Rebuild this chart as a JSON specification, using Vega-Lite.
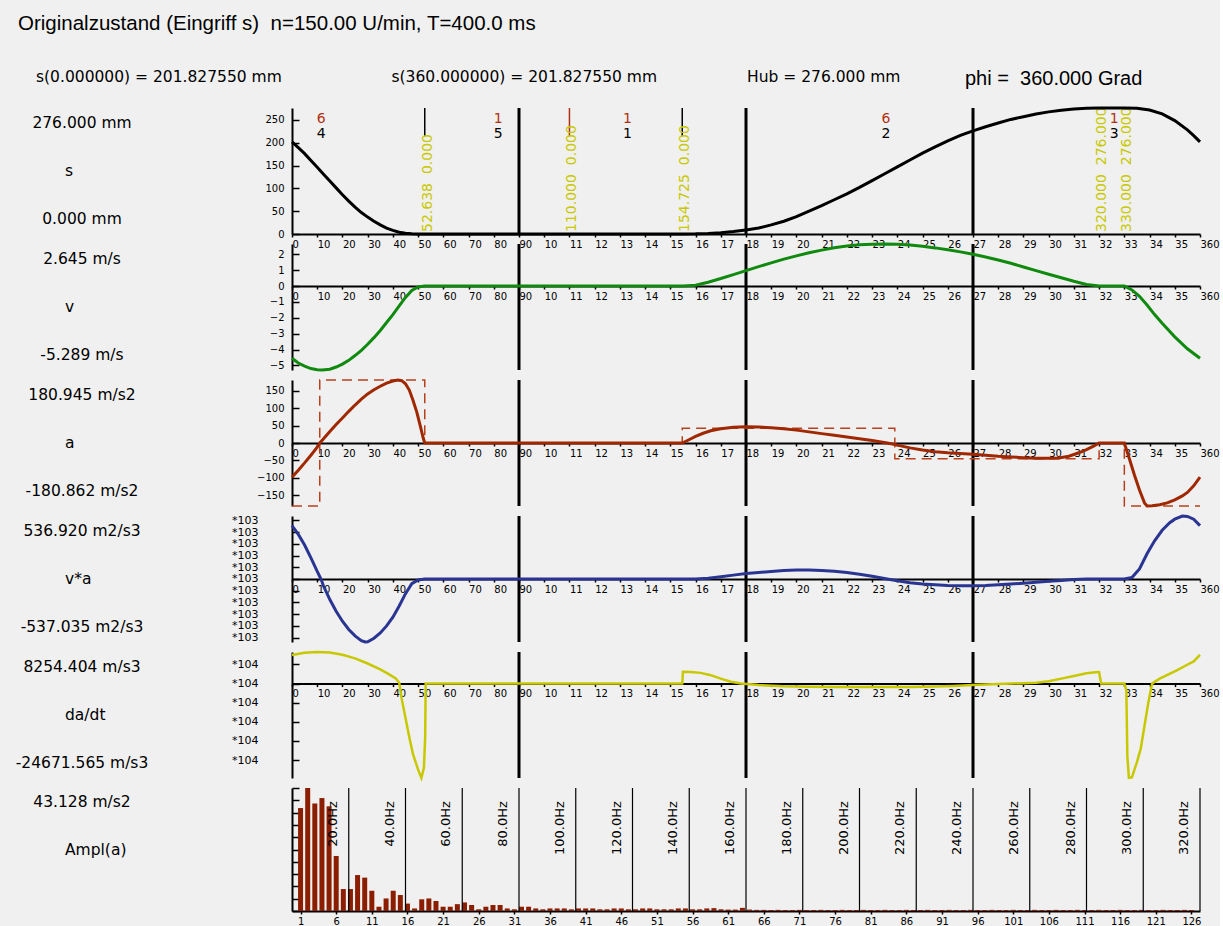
{
"$schema": "https://vega.github.io/schema/vega-lite/v6.json",
"background": "#f0f0f0",
"padding": {"left": 0, "top": 13, "right": 0, "bottom": 0},
"config": {
  "view": {"stroke": null},
  "font": "DejaVu Sans",
  "axis": {"domainColor": "black", "tickColor": "black", "labelColor": "black", "labelFont": "DejaVu Sans", "labelFontSize": 10, "grid": false, "domainWidth": 2, "tickWidth": 1.5, "labelOverlap": false, "labelBound": false, "labelSeparation": -100},
  "text": {"font": "DejaVu Sans", "fontSize": 15.5, "color": "black"}
},
"title": {"text": "Originalzustand (Eingriff s)\u00a0 n=150.00 U/min, T=400.0 ms", "anchor": "start", "font": "Liberation Sans", "fontSize": 20.5, "fontWeight": "normal", "color": "black", "dx": 18, "offset": 23},
"datasets": {
  "header": [
    {"item": "s0", "t": "s(0.000000) = 201.827550 mm"},
    {"item": "s360", "t": "s(360.000000) = 201.827550 mm"},
    {"item": "hub", "t": "Hub = 276.000 mm"},
    {"item": "phi", "t": "phi =\u00a0 360.000 Grad"}
  ],
  "quarters": [{"phi": 90}, {"phi": 180}, {"phi": 270}],
  "markers": [
    {"phi": 52.638, "lab": "52.638\u00a0 0.000"},
    {"phi": 110, "lab": "110.000\u00a0 0.000"},
    {"phi": 154.725, "lab": "154.725\u00a0 0.000"},
    {"phi": 320, "lab": "320.000\u00a0 276.000"},
    {"phi": 330, "lab": "330.000\u00a0 276.000"}
  ],
  "segs": [
    {"phi": 11.6, "law": "6", "seg": "4"},
    {"phi": 81.8, "law": "1", "seg": "5"},
    {"phi": 133, "law": "1", "seg": "1"},
    {"phi": 235.5, "law": "6", "seg": "2"},
    {"phi": 326, "law": "1", "seg": "3"}
  ],
  "s": [
    {"phi": 0, "val": 201.8}, {"phi": 2.5, "val": 189}, {"phi": 5, "val": 176}, {"phi": 7.5, "val": 161}, {"phi": 10, "val": 146},
    {"phi": 12.5, "val": 131}, {"phi": 15, "val": 116}, {"phi": 17.5, "val": 101}, {"phi": 20, "val": 86}, {"phi": 22.5, "val": 72},
    {"phi": 25, "val": 59}, {"phi": 27.5, "val": 47}, {"phi": 30, "val": 37}, {"phi": 32.5, "val": 28}, {"phi": 35, "val": 20},
    {"phi": 37.5, "val": 13}, {"phi": 40, "val": 8}, {"phi": 42.5, "val": 4}, {"phi": 45, "val": 1.8}, {"phi": 47.5, "val": 0.6},
    {"phi": 50, "val": 0.1}, {"phi": 52.638, "val": 0}, {"phi": 155, "val": 0}, {"phi": 160, "val": 0.3}, {"phi": 165, "val": 1.3},
    {"phi": 170, "val": 3}, {"phi": 175, "val": 5.5}, {"phi": 180, "val": 8.8}, {"phi": 185, "val": 13}, {"phi": 190, "val": 20},
    {"phi": 195, "val": 28}, {"phi": 200, "val": 38}, {"phi": 205, "val": 50}, {"phi": 210, "val": 62}, {"phi": 215, "val": 75},
    {"phi": 220, "val": 88}, {"phi": 225, "val": 102}, {"phi": 230, "val": 117}, {"phi": 235, "val": 132}, {"phi": 240, "val": 147},
    {"phi": 245, "val": 162}, {"phi": 250, "val": 177}, {"phi": 255, "val": 191}, {"phi": 260, "val": 204}, {"phi": 265, "val": 216},
    {"phi": 270, "val": 226}, {"phi": 275, "val": 235}, {"phi": 280, "val": 243}, {"phi": 285, "val": 251}, {"phi": 290, "val": 257},
    {"phi": 295, "val": 263}, {"phi": 300, "val": 267.5}, {"phi": 305, "val": 271}, {"phi": 310, "val": 274}, {"phi": 315, "val": 275.5},
    {"phi": 320, "val": 276}, {"phi": 330, "val": 276}, {"phi": 335, "val": 275.3}, {"phi": 340, "val": 271.5}, {"phi": 345, "val": 263},
    {"phi": 350, "val": 248.5}, {"phi": 355, "val": 228}, {"phi": 357.5, "val": 215.5}, {"phi": 360, "val": 201.8}
  ],
  "v": [
    {"phi": 0, "val": -4.55}, {"phi": 2.5, "val": -4.85}, {"phi": 5, "val": -5.05}, {"phi": 7.5, "val": -5.2}, {"phi": 10, "val": -5.27},
    {"phi": 12, "val": -5.289}, {"phi": 15, "val": -5.24}, {"phi": 17.5, "val": -5.1}, {"phi": 20, "val": -4.92}, {"phi": 22.5, "val": -4.68},
    {"phi": 25, "val": -4.38}, {"phi": 27.5, "val": -4.05}, {"phi": 30, "val": -3.67}, {"phi": 32.5, "val": -3.25}, {"phi": 35, "val": -2.8},
    {"phi": 37.5, "val": -2.3}, {"phi": 40, "val": -1.8}, {"phi": 42.5, "val": -1.25}, {"phi": 45, "val": -0.72}, {"phi": 47.5, "val": -0.28},
    {"phi": 50, "val": -0.06}, {"phi": 52.638, "val": 0}, {"phi": 155, "val": 0}, {"phi": 160, "val": 0.05}, {"phi": 165, "val": 0.24},
    {"phi": 170, "val": 0.47}, {"phi": 175, "val": 0.72}, {"phi": 180, "val": 0.97}, {"phi": 185, "val": 1.22}, {"phi": 190, "val": 1.46},
    {"phi": 195, "val": 1.69}, {"phi": 200, "val": 1.9}, {"phi": 205, "val": 2.09}, {"phi": 210, "val": 2.26}, {"phi": 215, "val": 2.41},
    {"phi": 220, "val": 2.52}, {"phi": 225, "val": 2.6}, {"phi": 230, "val": 2.635}, {"phi": 235, "val": 2.645}, {"phi": 240, "val": 2.63},
    {"phi": 245, "val": 2.58}, {"phi": 250, "val": 2.5}, {"phi": 255, "val": 2.4}, {"phi": 260, "val": 2.28}, {"phi": 265, "val": 2.15},
    {"phi": 270, "val": 2.0}, {"phi": 275, "val": 1.83}, {"phi": 280, "val": 1.64}, {"phi": 285, "val": 1.43}, {"phi": 290, "val": 1.2},
    {"phi": 295, "val": 0.97}, {"phi": 300, "val": 0.74}, {"phi": 305, "val": 0.52}, {"phi": 310, "val": 0.3}, {"phi": 315, "val": 0.1},
    {"phi": 320, "val": 0}, {"phi": 330, "val": 0}, {"phi": 333, "val": -0.25}, {"phi": 336, "val": -0.65}, {"phi": 339, "val": -1.2},
    {"phi": 342, "val": -1.8}, {"phi": 345, "val": -2.35}, {"phi": 350, "val": -3.2}, {"phi": 355, "val": -3.95}, {"phi": 360, "val": -4.55}
  ],
  "a": [
    {"phi": 0, "val": -98}, {"phi": 2.5, "val": -78}, {"phi": 5, "val": -57}, {"phi": 7.5, "val": -35}, {"phi": 10, "val": -12},
    {"phi": 11, "val": 0}, {"phi": 12.5, "val": 12}, {"phi": 15, "val": 33}, {"phi": 17.5, "val": 53}, {"phi": 20, "val": 72},
    {"phi": 22.5, "val": 91}, {"phi": 25, "val": 109}, {"phi": 27.5, "val": 126}, {"phi": 30, "val": 141}, {"phi": 32.5, "val": 153},
    {"phi": 35, "val": 163}, {"phi": 37.5, "val": 172}, {"phi": 40, "val": 178}, {"phi": 42, "val": 180.945}, {"phi": 43.5, "val": 179},
    {"phi": 45, "val": 170}, {"phi": 46.5, "val": 152}, {"phi": 48, "val": 122}, {"phi": 49.5, "val": 88}, {"phi": 51, "val": 45},
    {"phi": 52, "val": 15}, {"phi": 52.638, "val": 0}, {"phi": 154.725, "val": 0}, {"phi": 157, "val": 8}, {"phi": 160, "val": 19},
    {"phi": 163, "val": 28}, {"phi": 166, "val": 35}, {"phi": 170, "val": 41}, {"phi": 175, "val": 45.5}, {"phi": 180, "val": 47},
    {"phi": 185, "val": 46}, {"phi": 190, "val": 44}, {"phi": 195, "val": 41}, {"phi": 200, "val": 37}, {"phi": 205, "val": 32},
    {"phi": 210, "val": 27}, {"phi": 215, "val": 22}, {"phi": 220, "val": 17}, {"phi": 225, "val": 12}, {"phi": 230, "val": 7},
    {"phi": 236, "val": 0}, {"phi": 240, "val": -6}, {"phi": 245, "val": -14}, {"phi": 250, "val": -20}, {"phi": 255, "val": -25},
    {"phi": 260, "val": -28}, {"phi": 265, "val": -30}, {"phi": 270, "val": -32}, {"phi": 275, "val": -35}, {"phi": 280, "val": -38},
    {"phi": 285, "val": -40}, {"phi": 290, "val": -42}, {"phi": 295, "val": -43.5}, {"phi": 300, "val": -44}, {"phi": 304, "val": -43},
    {"phi": 308, "val": -38}, {"phi": 312, "val": -28}, {"phi": 315, "val": -19}, {"phi": 318, "val": -8}, {"phi": 320, "val": 0},
    {"phi": 330, "val": 0}, {"phi": 332, "val": -45}, {"phi": 334, "val": -92}, {"phi": 336, "val": -135}, {"phi": 338, "val": -172},
    {"phi": 339, "val": -180.862}, {"phi": 341, "val": -180}, {"phi": 344, "val": -177}, {"phi": 347, "val": -172}, {"phi": 350, "val": -163},
    {"phi": 353, "val": -152}, {"phi": 355, "val": -142}, {"phi": 357.5, "val": -123}, {"phi": 360, "val": -98}
  ],
  "astep": [
    {"phi": 0, "val": -180.862}, {"phi": 11, "val": 180.945}, {"phi": 52.638, "val": 0}, {"phi": 154.725, "val": 42.6},
    {"phi": 239, "val": -45}, {"phi": 320, "val": 0}, {"phi": 330, "val": -180.862}, {"phi": 360, "val": -180.862}
  ],
  "va": [
    {"phi": 0, "val": 455}, {"phi": 2.5, "val": 380}, {"phi": 5, "val": 290}, {"phi": 7.5, "val": 180}, {"phi": 10, "val": 65},
    {"phi": 11.5, "val": 0}, {"phi": 12.5, "val": -60}, {"phi": 15, "val": -175}, {"phi": 17.5, "val": -275}, {"phi": 20, "val": -360},
    {"phi": 22.5, "val": -430}, {"phi": 25, "val": -485}, {"phi": 27.5, "val": -525}, {"phi": 29, "val": -537.035}, {"phi": 30, "val": -535},
    {"phi": 32.5, "val": -505}, {"phi": 35, "val": -460}, {"phi": 37.5, "val": -400}, {"phi": 40, "val": -325}, {"phi": 42.5, "val": -230},
    {"phi": 45, "val": -125}, {"phi": 47.5, "val": -40}, {"phi": 50, "val": -8}, {"phi": 52.638, "val": 0}, {"phi": 155, "val": 0},
    {"phi": 160, "val": 1}, {"phi": 165, "val": 7}, {"phi": 170, "val": 19}, {"phi": 175, "val": 33}, {"phi": 180, "val": 46},
    {"phi": 185, "val": 56}, {"phi": 190, "val": 64}, {"phi": 195, "val": 72}, {"phi": 200, "val": 77}, {"phi": 205, "val": 76},
    {"phi": 210, "val": 72}, {"phi": 215, "val": 65}, {"phi": 220, "val": 55}, {"phi": 225, "val": 40}, {"phi": 230, "val": 24},
    {"phi": 236, "val": 0}, {"phi": 240, "val": -15}, {"phi": 245, "val": -32}, {"phi": 250, "val": -43}, {"phi": 255, "val": -50},
    {"phi": 260, "val": -55}, {"phi": 265, "val": -57}, {"phi": 270, "val": -57}, {"phi": 275, "val": -55}, {"phi": 280, "val": -50},
    {"phi": 285, "val": -43}, {"phi": 290, "val": -36}, {"phi": 295, "val": -28}, {"phi": 300, "val": -20}, {"phi": 305, "val": -12},
    {"phi": 310, "val": -5}, {"phi": 315, "val": -1}, {"phi": 320, "val": 0}, {"phi": 330, "val": 0}, {"phi": 333, "val": 12},
    {"phi": 336, "val": 85}, {"phi": 339, "val": 215}, {"phi": 342, "val": 325}, {"phi": 345, "val": 415}, {"phi": 348, "val": 480},
    {"phi": 350, "val": 510}, {"phi": 353, "val": 536.92}, {"phi": 355, "val": 533}, {"phi": 357.5, "val": 510}, {"phi": 360, "val": 455}
  ],
  "j": [
    {"phi": 0, "val": 7490}, {"phi": 5, "val": 8050}, {"phi": 10, "val": 8254.404}, {"phi": 15, "val": 8100}, {"phi": 20, "val": 7550},
    {"phi": 25, "val": 6600}, {"phi": 30, "val": 5250}, {"phi": 35, "val": 3700}, {"phi": 38, "val": 2600}, {"phi": 41, "val": 1400},
    {"phi": 42.5, "val": 300}, {"phi": 43.5, "val": -4000}, {"phi": 45, "val": -9000}, {"phi": 46.5, "val": -14000}, {"phi": 48, "val": -18500},
    {"phi": 50, "val": -22500}, {"phi": 51.3, "val": -24671.565}, {"phi": 52.3, "val": -22000}, {"phi": 52.8, "val": -14000}, {"phi": 53, "val": 0},
    {"phi": 154.725, "val": 0}, {"phi": 155, "val": 3100}, {"phi": 158, "val": 3050}, {"phi": 162, "val": 2800}, {"phi": 166, "val": 2200},
    {"phi": 170, "val": 1300}, {"phi": 174, "val": 500}, {"phi": 178, "val": 0}, {"phi": 185, "val": -400}, {"phi": 195, "val": -700},
    {"phi": 205, "val": -800}, {"phi": 215, "val": -900}, {"phi": 230, "val": -900}, {"phi": 245, "val": -900}, {"phi": 255, "val": -750},
    {"phi": 262, "val": -600}, {"phi": 270, "val": -400}, {"phi": 280, "val": -100}, {"phi": 290, "val": 100}, {"phi": 295, "val": 200},
    {"phi": 300, "val": 600}, {"phi": 305, "val": 1300}, {"phi": 310, "val": 2000}, {"phi": 315, "val": 2700}, {"phi": 319.5, "val": 3050},
    {"phi": 320, "val": 3000}, {"phi": 320.8, "val": 0}, {"phi": 330, "val": 0}, {"phi": 330.8, "val": -1700}, {"phi": 331.2, "val": -19000},
    {"phi": 331.8, "val": -24600}, {"phi": 333, "val": -24500}, {"phi": 335, "val": -20500}, {"phi": 336.5, "val": -17000}, {"phi": 338, "val": -11000},
    {"phi": 339.5, "val": -5000}, {"phi": 341, "val": 0}, {"phi": 344, "val": 1300}, {"phi": 347.5, "val": 2400}, {"phi": 351, "val": 3500},
    {"phi": 354, "val": 4600}, {"phi": 357.5, "val": 5800}, {"phi": 360, "val": 7490}
  ],
  "ampl": [
    {"n": 1, "val": 36.1}, {"n": 2, "val": 43.128}, {"n": 3, "val": 37.7}, {"n": 4, "val": 39.6}, {"n": 5, "val": 36.7},
    {"n": 6, "val": 19.3}, {"n": 7, "val": 7.7}, {"n": 8, "val": 7.7}, {"n": 9, "val": 12.6}, {"n": 10, "val": 11.7},
    {"n": 11, "val": 7.1}, {"n": 12, "val": 1.5}, {"n": 13, "val": 4.4}, {"n": 14, "val": 7.1}, {"n": 15, "val": 5.6},
    {"n": 16, "val": 2.6}, {"n": 17, "val": 0.9}, {"n": 18, "val": 4.1}, {"n": 19, "val": 4.4}, {"n": 20, "val": 3.5},
    {"n": 21, "val": 1.5}, {"n": 22, "val": 1.5}, {"n": 23, "val": 2.4}, {"n": 24, "val": 3.0}, {"n": 25, "val": 2.1},
    {"n": 26, "val": 0.6}, {"n": 27, "val": 1.5}, {"n": 28, "val": 2.1}, {"n": 29, "val": 2.1}, {"n": 30, "val": 0.9},
    {"n": 31, "val": 0.6}, {"n": 32, "val": 1.5}, {"n": 33, "val": 1.5}, {"n": 34, "val": 0.9}, {"n": 35, "val": 0.6},
    {"n": 36, "val": 0.9}, {"n": 37, "val": 0.9}, {"n": 38, "val": 0.9}, {"n": 39, "val": 0.6}, {"n": 40, "val": 0.9},
    {"n": 41, "val": 0.9}, {"n": 42, "val": 0.9}, {"n": 43, "val": 0.6}, {"n": 44, "val": 0.6}, {"n": 45, "val": 0.9},
    {"n": 46, "val": 0.9}, {"n": 47, "val": 0.6}, {"n": 48, "val": 0.6}, {"n": 49, "val": 0.9}, {"n": 50, "val": 0.9},
    {"n": 51, "val": 0.6}, {"n": 52, "val": 0.6}, {"n": 53, "val": 0.6}, {"n": 54, "val": 0.9}, {"n": 55, "val": 0.9},
    {"n": 56, "val": 0.6}, {"n": 57, "val": 0.6}, {"n": 58, "val": 0.9}, {"n": 59, "val": 1.0}, {"n": 60, "val": 0.6},
    {"n": 61, "val": 0.5}, {"n": 62, "val": 0.5}, {"n": 63, "val": 1.1}, {"n": 64, "val": 0.5}, {"n": 65, "val": 0.4},
    {"n": 66, "val": 0.4}, {"n": 67, "val": 0.35}, {"n": 68, "val": 0.4}, {"n": 69, "val": 0.35}, {"n": 70, "val": 0.35},
    {"n": 71, "val": 0.4}, {"n": 72, "val": 0.35}, {"n": 73, "val": 0.35}, {"n": 74, "val": 0.4}, {"n": 75, "val": 0.35},
    {"n": 76, "val": 0.35}, {"n": 77, "val": 0.4}, {"n": 78, "val": 0.35}, {"n": 79, "val": 0.35}, {"n": 80, "val": 0.4},
    {"n": 81, "val": 0.35}, {"n": 82, "val": 0.35}, {"n": 83, "val": 0.4}, {"n": 84, "val": 0.35}, {"n": 85, "val": 0.35},
    {"n": 86, "val": 0.4}, {"n": 87, "val": 0.35}, {"n": 88, "val": 0.35}, {"n": 89, "val": 0.4}, {"n": 90, "val": 0.35},
    {"n": 91, "val": 0.35}, {"n": 92, "val": 0.4}, {"n": 93, "val": 0.35}, {"n": 94, "val": 0.35}, {"n": 95, "val": 0.4},
    {"n": 96, "val": 0.35}, {"n": 97, "val": 0.35}, {"n": 98, "val": 0.4}, {"n": 99, "val": 0.35}, {"n": 100, "val": 0.35},
    {"n": 101, "val": 0.4}, {"n": 102, "val": 0.35}, {"n": 103, "val": 0.35}, {"n": 104, "val": 0.4}, {"n": 105, "val": 0.35},
    {"n": 106, "val": 0.35}, {"n": 107, "val": 0.4}, {"n": 108, "val": 0.35}, {"n": 109, "val": 0.35}, {"n": 110, "val": 0.4},
    {"n": 111, "val": 0.35}, {"n": 112, "val": 0.35}, {"n": 113, "val": 0.4}, {"n": 114, "val": 0.35}, {"n": 115, "val": 0.35},
    {"n": 116, "val": 0.4}, {"n": 117, "val": 0.35}, {"n": 118, "val": 0.35}, {"n": 119, "val": 0.4}, {"n": 120, "val": 0.35},
    {"n": 121, "val": 0.35}, {"n": 122, "val": 0.4}, {"n": 123, "val": 0.35}, {"n": 124, "val": 0.35}, {"n": 125, "val": 0.4},
    {"n": 126, "val": 0.35}
  ],
  "hz": [
    {"hz": 20, "lab": "20.0Hz"}, {"hz": 40, "lab": "40.0Hz"}, {"hz": 60, "lab": "60.0Hz"}, {"hz": 80, "lab": "80.0Hz"},
    {"hz": 100, "lab": "100.0Hz"}, {"hz": 120, "lab": "120.0Hz"}, {"hz": 140, "lab": "140.0Hz"}, {"hz": 160, "lab": "160.0Hz"},
    {"hz": 180, "lab": "180.0Hz"}, {"hz": 200, "lab": "200.0Hz"}, {"hz": 220, "lab": "220.0Hz"}, {"hz": 240, "lab": "240.0Hz"},
    {"hz": 260, "lab": "260.0Hz"}, {"hz": 280, "lab": "280.0Hz"}, {"hz": 300, "lab": "300.0Hz"}, {"hz": 320, "lab": "320.0Hz"}
  ]
},
"bounds": "flush",
"spacing": 11,
"vconcat": [
  {
    "width": 1200, "height": 40,
    "data": {"name": "header"},
    "resolve": {"scale": {"x": "independent"}},
    "layer": [
      {"transform": [{"filter": "datum.item !== 'phi'"}],
       "mark": {"type": "text", "align": "left"},
       "encoding": {"x": {"field": "item", "type": "nominal", "scale": {"domain": ["s0", "s360", "hub"], "range": [36, 747], "padding": 0}, "axis": null}, "text": {"field": "t"}}},
      {"transform": [{"filter": "datum.item === 'phi'"}],
       "mark": {"type": "text", "align": "left", "font": "Liberation Sans", "fontSize": 20, "dy": 2},
       "encoding": {"x": {"field": "item", "type": "nominal", "scale": {"domain": ["phi"], "range": [965, 965], "padding": 0}, "axis": null}, "text": {"field": "t"}}}
    ]
  },
  {
    "columns": 2,
    "bounds": "flush",
    "spacing": {"row": 10, "column": 128},
    "resolve": {"scale": {"x": "independent", "y": "independent"}},
    "concat": [
      {"width": 164, "height": 126, "layer": [
        {"data": {"values": [{"slot": "top", "t": "276.000 mm"}, {"slot": "bottom", "t": "0.000 mm"}]}, "mark": {"type": "text"}, "encoding": {"y": {"field": "slot", "type": "nominal", "scale": {"domain": ["top", "mid", "bottom"], "padding": 0.3}, "axis": null}, "text": {"field": "t"}}},
        {"data": {"values": [{"slot": "mid", "t": "s"}]}, "mark": {"type": "text", "align": "left", "dx": -17}, "encoding": {"y": {"field": "slot", "type": "nominal", "axis": null}, "text": {"field": "t"}}}
      ]},
      {"width": 908, "height": 126,
       "encoding": {"x": {"field": "phi", "type": "quantitative", "scale": {"domain": [0, 360], "nice": false, "zero": false},
           "axis": {"title": null, "values": [0,10,20,30,40,50,60,70,80,90,100,110,120,130,140,150,160,170,180,190,200,210,220,230,240,250,260,270,280,290,300,310,320,330,340,350,360], "labelExpr": "datum.value == 360 ? '360' : substring(datum.label, 0, 2)", "labelAlign": "left", "labelPadding": 2, "tickSize": 3, "labelOverlap": false, "labelFlush": false}}},
       "layer": [
        {"data": {"name": "quarters"}, "mark": {"type": "rule", "strokeWidth": 3, "color": "black"}},
        {"data": {"name": "markers"}, "transform": [{"filter": "datum.phi < 300"}], "mark": {"type": "rule", "strokeWidth": 1.5},
         "encoding": {"y": {"datum": 214, "axis": {"title": null, "values": [0, 50, 100, 150, 200, 250], "tickSize": -7, "labelPadding": 15, "labelOverlap": false}}, "y2": {"datum": 276}, "color": {"condition": {"test": "datum.phi === 110", "value": "#b03010"}, "value": "black"}}},
        {"data": {"name": "markers"}, "mark": {"type": "text", "angle": 270, "align": "left", "baseline": "middle", "dx": 2, "dy": 3, "color": "#c8c800", "fontSize": 14},
         "encoding": {"y": {"datum": 0, "axis": {"title": null, "values": [0, 50, 100, 150, 200, 250], "tickSize": -7, "labelPadding": 15, "labelOverlap": false}}, "text": {"field": "lab"}}},
        {"data": {"name": "segs"}, "mark": {"type": "text", "color": "#b03010", "fontSize": 14},
         "encoding": {"y": {"datum": 252, "axis": {"title": null, "values": [0, 50, 100, 150, 200, 250], "tickSize": -7, "labelPadding": 15, "labelOverlap": false}}, "text": {"field": "law"}}},
        {"data": {"name": "segs"}, "mark": {"type": "text", "fontSize": 14},
         "encoding": {"y": {"datum": 219, "axis": {"title": null, "values": [0, 50, 100, 150, 200, 250], "tickSize": -7, "labelPadding": 15, "labelOverlap": false}}, "text": {"field": "seg"}}},
        {"data": {"name": "s"}, "mark": {"type": "line", "color": "black", "strokeWidth": 3},
         "encoding": {"y": {"field": "val", "type": "quantitative", "scale": {"domain": [0, 276], "nice": false, "zero": false},
           "axis": {"title": null, "values": [0, 50, 100, 150, 200, 250], "tickSize": -7, "labelPadding": 15, "labelOverlap": false}}}}
      ]},
      {"width": 164, "height": 126, "layer": [
        {"data": {"values": [{"slot": "top", "t": "2.645 m/s"}, {"slot": "bottom", "t": "-5.289 m/s"}]}, "mark": {"type": "text"}, "encoding": {"y": {"field": "slot", "type": "nominal", "scale": {"domain": ["top", "mid", "bottom"], "padding": 0.3}, "axis": null}, "text": {"field": "t"}}},
        {"data": {"values": [{"slot": "mid", "t": "v"}]}, "mark": {"type": "text", "align": "left", "dx": -17}, "encoding": {"y": {"field": "slot", "type": "nominal", "axis": null}, "text": {"field": "t"}}}
      ]},
      {"width": 908, "height": 126,
       "encoding": {"x": {"field": "phi", "type": "quantitative", "scale": {"domain": [0, 360], "nice": false, "zero": false},
           "axis": {"title": null, "offset": -84, "values": [0,10,20,30,40,50,60,70,80,90,100,110,120,130,140,150,160,170,180,190,200,210,220,230,240,250,260,270,280,290,300,310,320,330,340,350,360], "labelExpr": "datum.value == 360 ? '360' : substring(datum.label, 0, 2)", "labelAlign": "left", "labelPadding": 2, "tickSize": 3, "labelOverlap": false, "labelFlush": false}}},
       "layer": [
        {"data": {"name": "quarters"}, "mark": {"type": "rule", "strokeWidth": 3, "color": "black"}},
        {"data": {"name": "v"}, "mark": {"type": "line", "color": "#0f8a0f", "strokeWidth": 3},
         "encoding": {"y": {"field": "val", "type": "quantitative", "scale": {"domain": [-5.289, 2.645], "nice": false, "zero": false},
           "axis": {"title": null, "values": [-5, -4, -3, -2, -1, 0, 1, 2], "tickSize": -7, "labelPadding": 15, "labelOverlap": false}}}}
      ]},
      {"width": 164, "height": 126, "layer": [
        {"data": {"values": [{"slot": "top", "t": "180.945 m/s2"}, {"slot": "bottom", "t": "-180.862 m/s2"}]}, "mark": {"type": "text"}, "encoding": {"y": {"field": "slot", "type": "nominal", "scale": {"domain": ["top", "mid", "bottom"], "padding": 0.3}, "axis": null}, "text": {"field": "t"}}},
        {"data": {"values": [{"slot": "mid", "t": "a"}]}, "mark": {"type": "text", "align": "left", "dx": -17}, "encoding": {"y": {"field": "slot", "type": "nominal", "axis": null}, "text": {"field": "t"}}}
      ]},
      {"width": 908, "height": 126,
       "encoding": {"x": {"field": "phi", "type": "quantitative", "scale": {"domain": [0, 360], "nice": false, "zero": false},
           "axis": {"title": null, "offset": -63, "values": [0,10,20,30,40,50,60,70,80,90,100,110,120,130,140,150,160,170,180,190,200,210,220,230,240,250,260,270,280,290,300,310,320,330,340,350,360], "labelExpr": "datum.value == 360 ? '360' : substring(datum.label, 0, 2)", "labelAlign": "left", "labelPadding": 2, "tickSize": 3, "labelOverlap": false, "labelFlush": false}}},
       "layer": [
        {"data": {"name": "quarters"}, "mark": {"type": "rule", "strokeWidth": 3, "color": "black"}},
        {"data": {"name": "astep"}, "mark": {"type": "line", "interpolate": "step-after", "color": "#b8401c", "strokeWidth": 1.5, "strokeDash": [10, 6]},
         "encoding": {"y": {"field": "val", "type": "quantitative", "axis": {"title": null, "values": [-150, -100, -50, 0, 50, 100, 150], "tickSize": -7, "labelPadding": 15, "labelOverlap": false}}}},
        {"data": {"name": "a"}, "mark": {"type": "line", "color": "#a02800", "strokeWidth": 3},
         "encoding": {"y": {"field": "val", "type": "quantitative", "scale": {"domain": [-180.862, 180.945], "nice": false, "zero": false},
           "axis": {"title": null, "values": [-150, -100, -50, 0, 50, 100, 150], "tickSize": -7, "labelPadding": 15, "labelOverlap": false}}}},
        {"data": {"values": [{"t": "krit.: 330.0 -- 371.3 Grad, -180.862 m/s2, 45.91 ms (10.89 Hz)"}]}, "mark": {"type": "text", "align": "left"},
         "encoding": {"x": {"datum": 108.4, "axis": {"title": null, "offset": -63, "values": [0,10,20,30,40,50,60,70,80,90,100,110,120,130,140,150,160,170,180,190,200,210,220,230,240,250,260,270,280,290,300,310,320,330,340,350,360], "labelExpr": "datum.value == 360 ? '360' : substring(datum.label, 0, 2)", "labelAlign": "left", "labelPadding": 2, "tickSize": 3, "labelOverlap": false, "labelFlush": false}},
           "y": {"datum": 136, "axis": {"title": null, "values": [-150, -100, -50, 0, 50, 100, 150], "tickSize": -7, "labelPadding": 15, "labelOverlap": false}}, "text": {"field": "t"}}},
        {"data": {"values": [{"t": "Effektivwert(a) = 81.445354 m/s2"}]}, "mark": {"type": "text", "align": "left"},
         "encoding": {"x": {"datum": 108.4, "axis": {"title": null, "offset": -63, "values": [0,10,20,30,40,50,60,70,80,90,100,110,120,130,140,150,160,170,180,190,200,210,220,230,240,250,260,270,280,290,300,310,320,330,340,350,360], "labelExpr": "datum.value == 360 ? '360' : substring(datum.label, 0, 2)", "labelAlign": "left", "labelPadding": 2, "tickSize": 3, "labelOverlap": false, "labelFlush": false}},
           "y": {"datum": 90, "axis": {"title": null, "values": [-150, -100, -50, 0, 50, 100, 150], "tickSize": -7, "labelPadding": 15, "labelOverlap": false}}, "text": {"field": "t"}}}
      ]},
      {"width": 164, "height": 126, "layer": [
        {"data": {"values": [{"slot": "top", "t": "536.920 m2/s3"}, {"slot": "bottom", "t": "-537.035 m2/s3"}]}, "mark": {"type": "text"}, "encoding": {"y": {"field": "slot", "type": "nominal", "scale": {"domain": ["top", "mid", "bottom"], "padding": 0.3}, "axis": null}, "text": {"field": "t"}}},
        {"data": {"values": [{"slot": "mid", "t": "v*a"}]}, "mark": {"type": "text", "align": "left", "dx": -17}, "encoding": {"y": {"field": "slot", "type": "nominal", "axis": null}, "text": {"field": "t"}}}
      ]},
      {"width": 908, "height": 126,
       "encoding": {"x": {"field": "phi", "type": "quantitative", "scale": {"domain": [0, 360], "nice": false, "zero": false},
           "axis": {"title": null, "offset": -63, "values": [0,10,20,30,40,50,60,70,80,90,100,110,120,130,140,150,160,170,180,190,200,210,220,230,240,250,260,270,280,290,300,310,320,330,340,350,360], "labelExpr": "datum.value == 360 ? '360' : substring(datum.label, 0, 2)", "labelAlign": "left", "labelPadding": 2, "tickSize": 3, "labelOverlap": false, "labelFlush": false}}},
       "layer": [
        {"data": {"name": "quarters"}, "mark": {"type": "rule", "strokeWidth": 3, "color": "black"}},
        {"data": {"name": "va"}, "mark": {"type": "line", "color": "#2a3592", "strokeWidth": 3},
         "encoding": {"y": {"field": "val", "type": "quantitative", "scale": {"domain": [-537.035, 536.92], "nice": false, "zero": false},
           "axis": {"title": null, "values": [-500, -400, -300, -200, -100, 0, 100, 200, 300, 400, 500], "labelExpr": "'*103'", "tickSize": -7, "labelPadding": 41, "labelFontSize": 11, "labelOverlap": false}}}},
        {"data": {"values": [{"t": "Effektivwert(v*a) = 286.942214 m2/s3"}]}, "mark": {"type": "text", "align": "left"},
         "encoding": {"x": {"datum": 108.4, "axis": {"title": null, "offset": -63, "values": [0,10,20,30,40,50,60,70,80,90,100,110,120,130,140,150,160,170,180,190,200,210,220,230,240,250,260,270,280,290,300,310,320,330,340,350,360], "labelExpr": "datum.value == 360 ? '360' : substring(datum.label, 0, 2)", "labelAlign": "left", "labelPadding": 2, "tickSize": 3, "labelOverlap": false, "labelFlush": false}},
           "y": {"datum": 571, "axis": {"title": null, "values": [-500, -400, -300, -200, -100, 0, 100, 200, 300, 400, 500], "labelExpr": "'*103'", "tickSize": -7, "labelPadding": 41, "labelFontSize": 11, "labelOverlap": false}}, "text": {"field": "t"}}}
      ]},
      {"width": 164, "height": 126, "layer": [
        {"data": {"values": [{"slot": "top", "t": "8254.404 m/s3"}, {"slot": "bottom", "t": "-24671.565 m/s3"}]}, "mark": {"type": "text"}, "encoding": {"y": {"field": "slot", "type": "nominal", "scale": {"domain": ["top", "mid", "bottom"], "padding": 0.3}, "axis": null}, "text": {"field": "t"}}},
        {"data": {"values": [{"slot": "mid", "t": "da/dt"}]}, "mark": {"type": "text", "align": "left", "dx": -17}, "encoding": {"y": {"field": "slot", "type": "nominal", "axis": null}, "text": {"field": "t"}}}
      ]},
      {"width": 908, "height": 126,
       "encoding": {"x": {"field": "phi", "type": "quantitative", "scale": {"domain": [0, 360], "nice": false, "zero": false},
           "axis": {"title": null, "offset": -94.4, "values": [0,10,20,30,40,50,60,70,80,90,100,110,120,130,140,150,160,170,180,190,200,210,220,230,240,250,260,270,280,290,300,310,320,330,340,350,360], "labelExpr": "datum.value == 360 ? '360' : substring(datum.label, 0, 2)", "labelAlign": "left", "labelPadding": 2, "tickSize": 3, "labelOverlap": false, "labelFlush": false}}},
       "layer": [
        {"data": {"name": "quarters"}, "mark": {"type": "rule", "strokeWidth": 3, "color": "black"}},
        {"data": {"name": "j"}, "mark": {"type": "line", "color": "#c8c800", "strokeWidth": 2.5},
         "encoding": {"y": {"field": "val", "type": "quantitative", "scale": {"domain": [-24671.565, 8254.404], "nice": false, "zero": false},
           "axis": {"title": null, "values": [5000, 0, -5000, -10000, -15000, -20000], "labelExpr": "'*104'", "tickSize": -7, "labelPadding": 41, "labelFontSize": 11, "labelOverlap": false}}}}
      ]},
      {"width": 164, "height": 123, "layer": [
        {"data": {"values": [{"slot": "top", "t": "43.128 m/s2"}]}, "mark": {"type": "text"}, "encoding": {"y": {"field": "slot", "type": "nominal", "scale": {"domain": ["top", "mid", "bottom"], "padding": 0.3}, "axis": null}, "text": {"field": "t"}}},
        {"data": {"values": [{"slot": "mid", "t": "Ampl(a)"}]}, "mark": {"type": "text", "align": "left", "dx": -17}, "encoding": {"y": {"field": "slot", "type": "nominal", "axis": null}, "text": {"field": "t"}}}
      ]},
      {"width": 908, "height": 123,
       "resolve": {"scale": {"x": "independent"}, "axis": {"x": "independent"}},
       "layer": [
        {"data": {"name": "ampl"}, "mark": {"type": "bar", "color": "#8b1e00", "size": 5},
         "encoding": {"x": {"field": "n", "type": "quantitative", "scale": {"domain": [0.5, 126.5], "nice": false, "zero": false},
            "axis": {"title": null, "values": [1,6,11,16,21,26,31,36,41,46,51,56,61,66,71,76,81,86,91,96,101,106,111,116,121,126], "tickSize": 3, "labelPadding": 2, "labelOverlap": false, "labelFlush": false}},
           "y": {"field": "val", "type": "quantitative", "scale": {"domain": [0, 43.128], "nice": false, "zero": true},
            "axis": {"title": null, "values": [0, 4.3128, 8.6256, 12.9384, 17.2512, 21.564, 25.8768, 30.1896, 34.5024, 38.8152, 43.128], "labels": false, "tickSize": -7}}}},
        {"data": {"name": "hz"}, "layer": [
          {"mark": {"type": "rule", "strokeWidth": 1.2, "color": "black"},
           "encoding": {"x": {"field": "hz", "type": "quantitative", "scale": {"domain": [0, 320], "nice": false, "zero": false}, "axis": null}}},
          {"mark": {"type": "text", "angle": 270, "align": "right", "baseline": "middle", "dy": -16, "fontSize": 13},
           "encoding": {"x": {"field": "hz", "type": "quantitative"}, "y": {"datum": 38.5, "axis": {"title": null, "values": [0, 4.3128, 8.6256, 12.9384, 17.2512, 21.564, 25.8768, 30.1896, 34.5024, 38.8152, 43.128], "labels": false, "tickSize": -7}}, "text": {"field": "lab"}}}
        ]}
      ]}
    ]
  }
]
}
